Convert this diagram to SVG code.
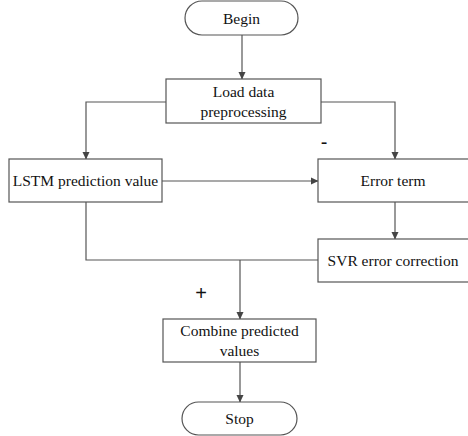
<svg xmlns="http://www.w3.org/2000/svg" width="468" height="436" viewBox="0 0 468 436">
<style>
.box{fill:#fff;stroke:#555;stroke-width:1.2}
.ln{fill:none;stroke:#555;stroke-width:1.2}
.t{font-size:15.5px;fill:#111;text-anchor:middle}
.s{font-family:'Liberation Sans',Arial,sans-serif;font-size:20px;fill:#111;text-anchor:middle}
</style>
<defs>
<marker id="ah" markerWidth="8" markerHeight="8" refX="7" refY="4" orient="auto" markerUnits="userSpaceOnUse">
<path d="M0,0.5 L7.5,4 L0,7.5 Z" fill="#444"/>
</marker>
</defs>
<g id="connectors">
<line class="ln" x1="242" y1="35" x2="242" y2="79" marker-end="url(#ah)"/>
<polyline class="ln" points="166,102 86,102 86,159" marker-end="url(#ah)"/>
<polyline class="ln" points="321,102 395,102 395,159" marker-end="url(#ah)"/>
<line class="ln" x1="162" y1="181" x2="318" y2="181" marker-end="url(#ah)"/>
<line class="ln" x1="395" y1="202" x2="395" y2="239" marker-end="url(#ah)"/>
<polyline class="ln" points="86,202 86,260 318,260"/>
<line class="ln" x1="240" y1="260" x2="240" y2="319" marker-end="url(#ah)"/>
<line class="ln" x1="240" y1="362" x2="240" y2="402" marker-end="url(#ah)"/>
<text class="s" x="324" y="149">-</text>
<text class="s" x="201" y="300">+</text>
</g>
<g font-family="Liberation Serif, Times New Roman, serif">
<g id="begin">
<rect class="box" x="185" y="1" width="113" height="34" rx="17"/>
<text class="t" x="241.5" y="23.5">Begin</text>
</g>
<g id="load">
<rect class="box" x="166" y="79" width="155" height="44"/>
<text class="t" x="243.5" y="97">Load data</text>
<text class="t" x="243.5" y="117">preprocessing</text>
</g>
<g id="lstm">
<rect class="box" x="9" y="159" width="153" height="43"/>
<text class="t" x="85.5" y="186">LSTM prediction value</text>
</g>
<g id="error">
<rect class="box" x="318" y="159" width="152" height="43"/>
<text class="t" x="393" y="186">Error term</text>
</g>
<g id="svr">
<rect class="box" x="318" y="239" width="152" height="43"/>
<text class="t" x="393" y="266">SVR error correction</text>
</g>
<g id="combine">
<rect class="box" x="163" y="319" width="153" height="43"/>
<text class="t" x="239.5" y="336">Combine predicted</text>
<text class="t" x="239.5" y="356">values</text>
</g>
<g id="stop">
<rect class="box" x="182" y="402" width="115" height="33" rx="16.5"/>
<text class="t" x="239.5" y="423.5">Stop</text>
</g>
</g>
</svg>
